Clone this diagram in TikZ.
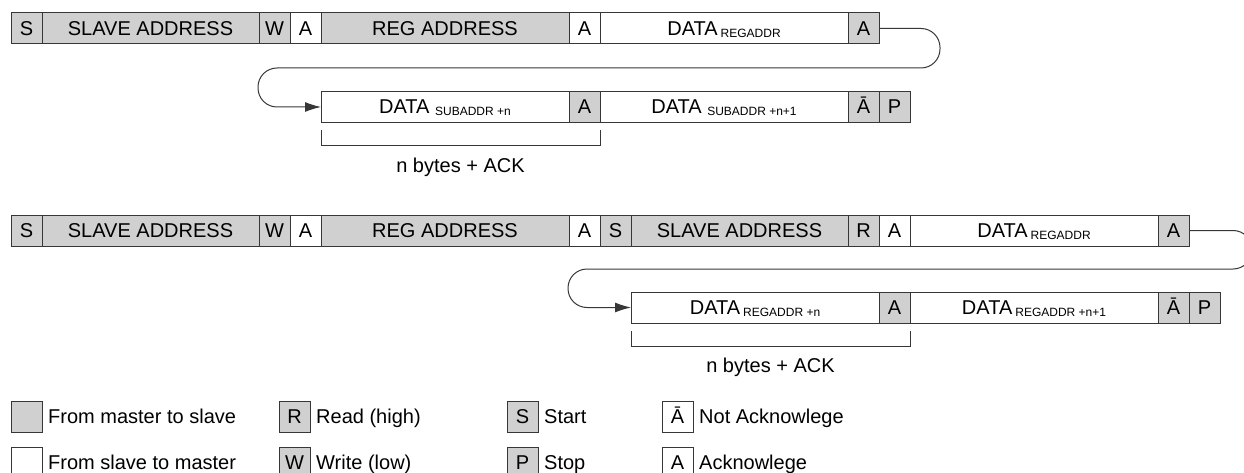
\documentclass[tikz,border=0pt]{standalone}
\usepackage{fontspec}
\setmainfont{Liberation Sans}
\usetikzlibrary{positioning,arrows.meta}
\definecolor{gris}{RGB}{208,208,208}
\definecolor{trait}{RGB}{55,55,55}
\newcommand{\indice}[1]{\raisebox{-2pt}[0pt][0pt]{\fontsize{12}{14}\selectfont#1}}

\begin{document}
\begin{tikzpicture}[x=1pt,y=-1pt]
\tikzstyle{lien}=[-{Latex[length=16pt,width=10pt]},rounded corners=19pt,line width=1pt,draw=trait]
\tikzset{champ/.style={draw=trait,line width=1pt,fill=#1,minimum height=31pt,inner sep=0pt,outer sep=0pt,
  text height=13.8pt,text depth=0pt,font=\fontsize{20}{24}\selectfont},
champ/.default={white},
bitcase/.style={champ=#1,minimum width=31pt},
bitcase/.default={white},
adrcase/.style={champ=#1,minimum width=217pt},
adrcase/.default={gris},
datacase/.style={champ=#1,minimum width=248pt},
datacase/.default={white},
accolade/.style={line width=1pt,draw=trait},
legende/.style={inner sep=0pt,text height=13.8pt,text depth=0pt,font=\fontsize{20}{24}\selectfont}}
\useasboundingbox (0,0) rectangle (1244,473);

% ecriture
\node[bitcase=gris,anchor=west] (S1) at (11,28.5) {S};
\node[adrcase,right=0pt of S1] (SA1) {SLAVE ADDRESS};
\node[bitcase=gris,right=0pt of SA1] (W1) {W};
\node[bitcase,right=0pt of W1] (A1) {A};
\node[datacase=gris,right=0pt of A1] (RA1) {REG ADDRESS};
\node[bitcase,right=0pt of RA1] (A2) {A};
\node[datacase,right=0pt of A2] (D1) {DATA\indice{\hspace{3pt}REGADDR}};
\node[bitcase=gris,right=0pt of D1] (A3) {A};

\node[datacase,anchor=west] (D2) at (321,107) {DATA \indice{SUBADDR +n}};
\node[bitcase=gris,right=0pt of D2] (A4) {A};
\node[datacase,right=0pt of A4] (D3) {DATA \indice{SUBADDR +n+1}};
\node[bitcase=gris,right=0pt of D3] (NA1) {Ā};
\node[bitcase=gris,right=0pt of NA1] (P1) {P};

\draw[lien] (A3.east) -- ++(61,0) |- ([xshift=-63pt,yshift=39pt]D2.west) |- (D2.west);
\draw[accolade] ([yshift=-8pt]D2.south west) |- node[pos=0.75,below=12.5pt,legende] (NB1) {n bytes + ACK} ([yshift=-23pt]A4.south east) -- ([yshift=-8pt]A4.south east);

% lecture
\node[bitcase=gris,anchor=west] (S2) at (11,230.5) {S};
\node[adrcase,right=0pt of S2] (SA2) {SLAVE ADDRESS};
\node[bitcase=gris,right=0pt of SA2] (W2) {W};
\node[bitcase,right=0pt of W2] (A5) {A};
\node[datacase=gris,right=0pt of A5] (RA2) {REG ADDRESS};
\node[bitcase,right=0pt of RA2] (A6) {A};
\node[bitcase=gris,right=0pt of A6] (S3) {S};
\node[adrcase,right=0pt of S3] (SA3) {SLAVE ADDRESS};
\node[bitcase=gris,right=0pt of SA3] (R2) {R};
\node[bitcase,right=0pt of R2] (A7) {A};
\node[datacase,right=0pt of A7] (D4) {DATA\indice{\hspace{3pt}REGADDR}};
\node[bitcase=gris,right=0pt of D4] (A8) {A};

\node[datacase,anchor=west] (D5) at (631,307.5) {DATA\indice{\hspace{3pt}REGADDR +n}};
\node[bitcase=gris,right=0pt of D5] (A9) {A};
\node[datacase,right=0pt of A9] (D6) {DATA\indice{\hspace{3pt}REGADDR +n+1}};
\node[bitcase=gris,right=0pt of D6] (NA2) {Ā};
\node[bitcase=gris,right=0pt of NA2] (P2) {P};

\draw[lien] (A8.east) -- ++(63,0) |- ([xshift=-63pt,yshift=38.5pt]D5.west) |- (D5.west);
\draw[accolade] ([yshift=-8pt]D5.south west) |- node[pos=0.75,below=12.5pt,legende] (NB2) {n bytes + ACK} ([yshift=-23pt]A9.south east) -- ([yshift=-8pt]A9.south east);

% legende
\node[bitcase=gris,anchor=west] (LG1) at (11,416.5) {};
\node[legende,right=6pt of LG1] (LT1) {From master to slave};
\node[bitcase,anchor=west] (LG2) at (11,462.5) {};
\node[legende,right=6pt of LG2] (LT2) {From slave to master};
\node[bitcase=gris,anchor=west] (LG3) at (279,416.5) {R};
\node[legende,right=6pt of LG3] (LT3) {Read (high)};
\node[bitcase=gris,anchor=west] (LG4) at (279,462.5) {W};
\node[legende,right=6pt of LG4] (LT4) {Write (low)};
\node[bitcase=gris,anchor=west] (LG5) at (507,416.5) {S};
\node[legende,right=6pt of LG5] (LT5) {Start};
\node[bitcase=gris,anchor=west] (LG6) at (507,462.5) {P};
\node[legende,right=6pt of LG6] (LT6) {Stop};
\node[bitcase,anchor=west] (LG7) at (662,416.5) {Ā};
\node[legende,right=6pt of LG7] (LT7) {Not Acknowlege};
\node[bitcase,anchor=west] (LG8) at (662,462.5) {A};
\node[legende,right=6pt of LG8] (LT8) {Acknowlege};

\end{tikzpicture}
\end{document}
